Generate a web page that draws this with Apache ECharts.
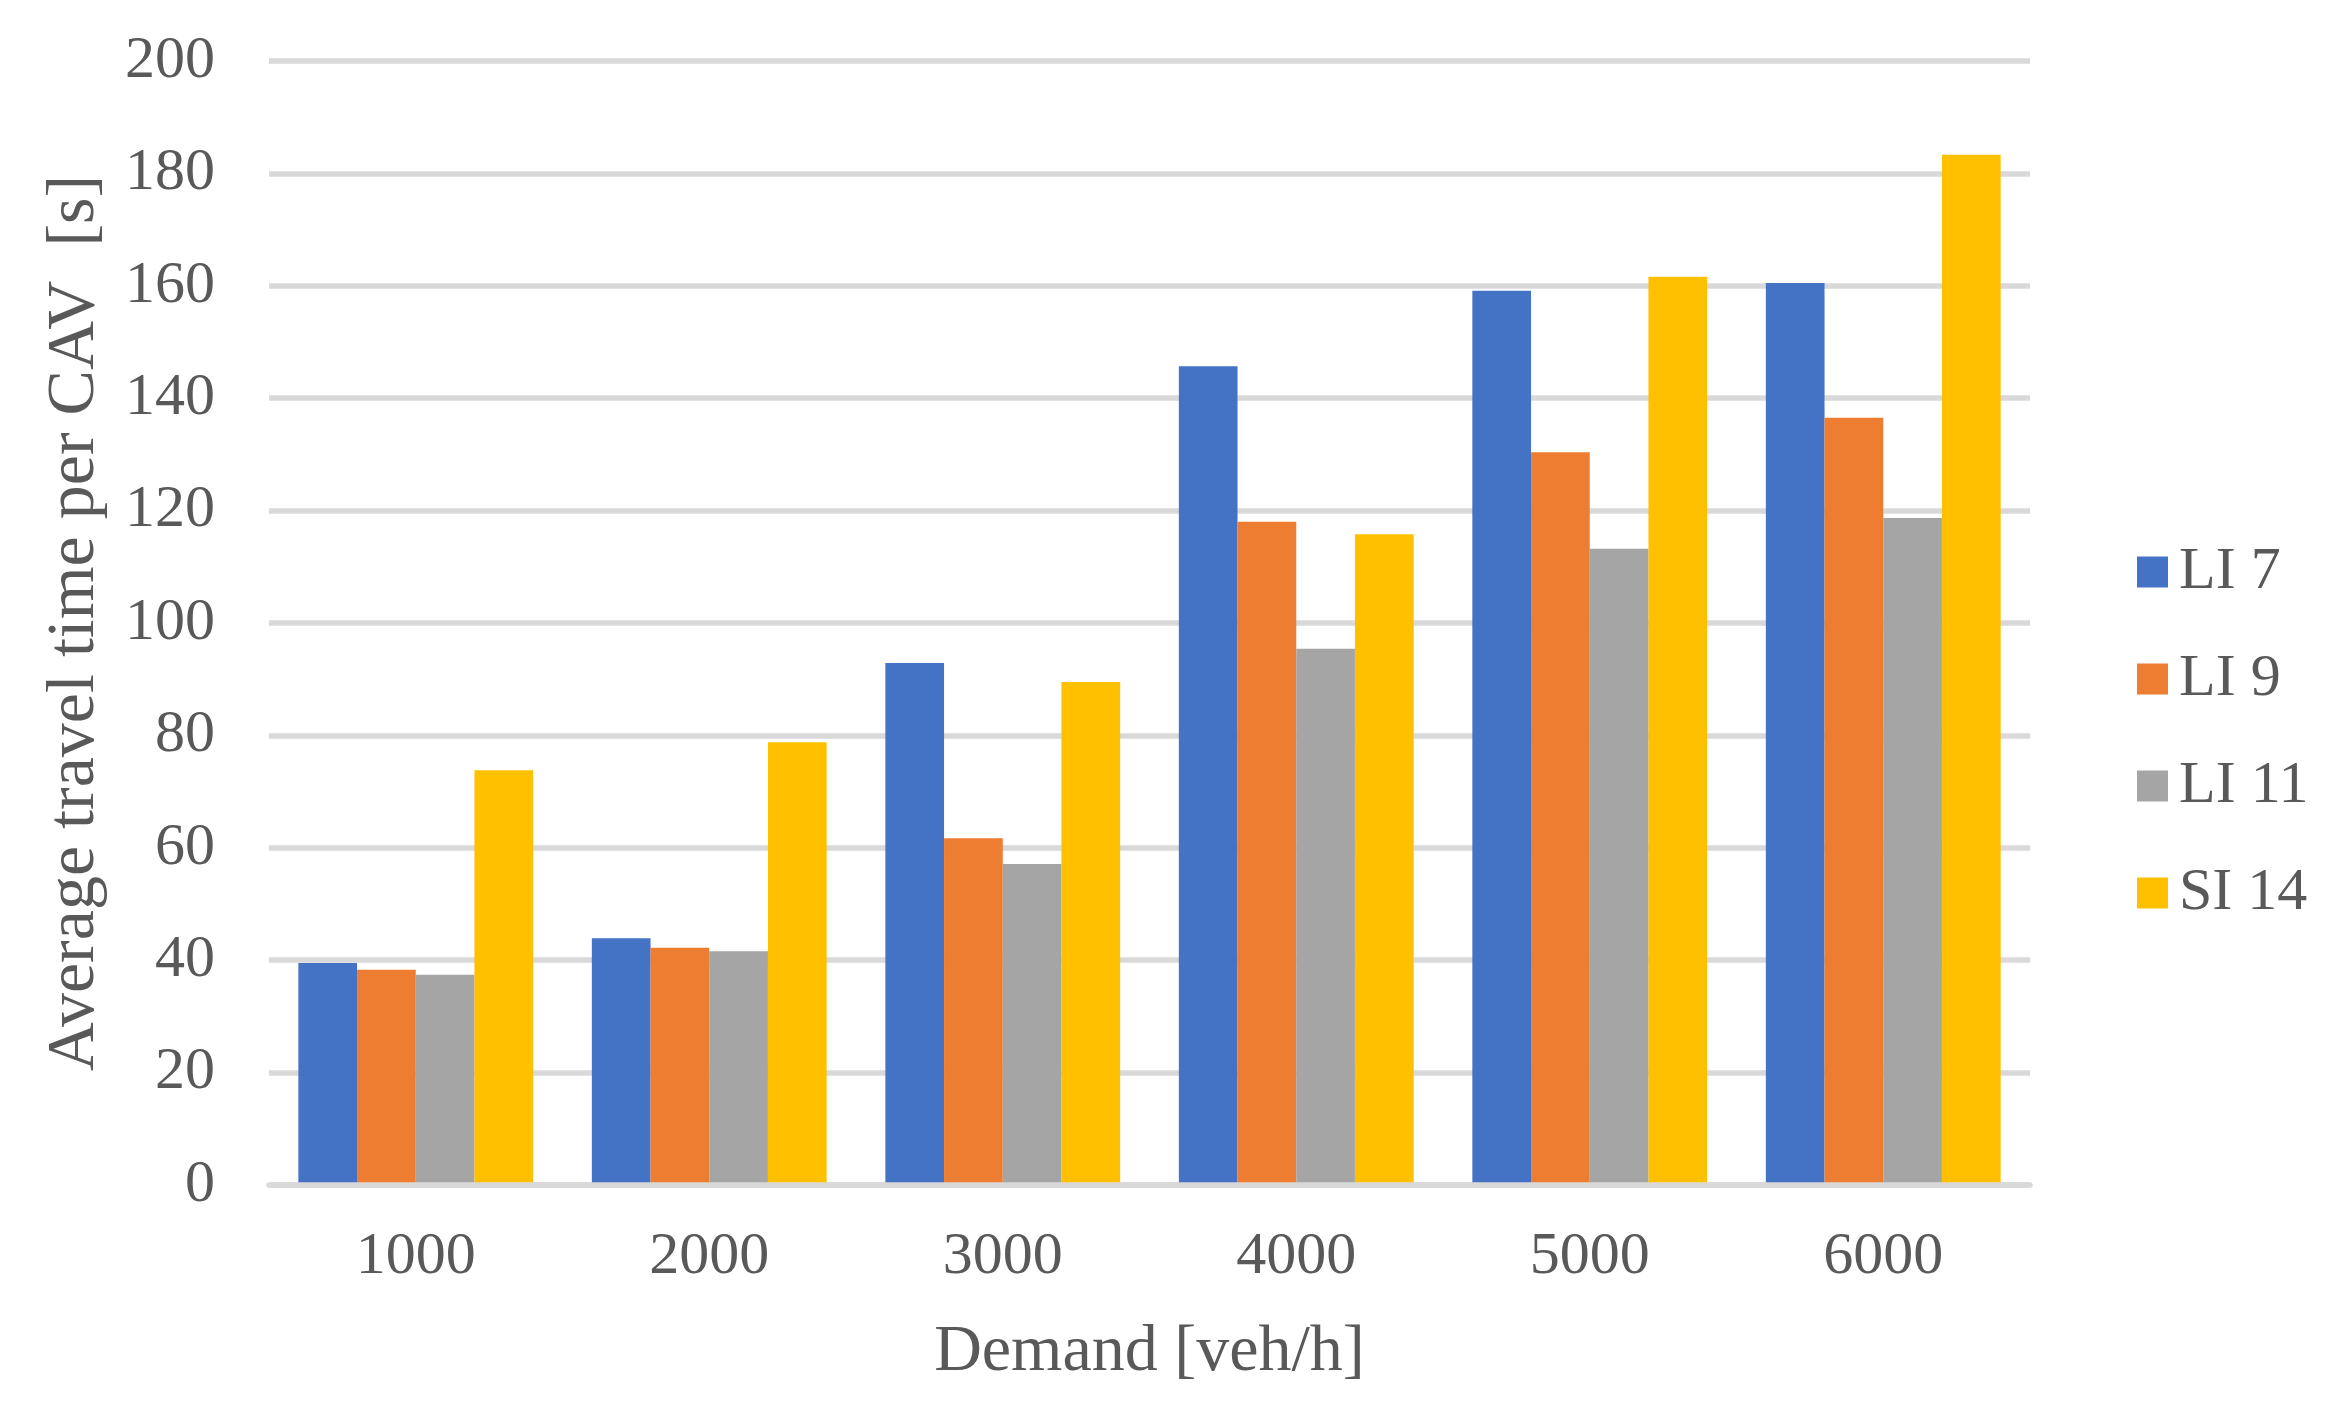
<!DOCTYPE html>
<html>
<head>
<meta charset="utf-8">
<script src="https://cdn.jsdelivr.net/npm/echarts@6/dist/echarts.min.js"></script>
<style>
html,body{margin:0;padding:0;background:#fff;}
#chart{width:2328px;height:1410px;}
</style>
</head>
<body>
<div id="chart"></div>
<script>
const categories = ['1000', '2000', '3000', '4000', '5000', '6000'];
const seriesNames = ['LI 7', 'LI 9', 'LI 11', 'SI 14'];
const li7 = [39.5, 43.9, 92.9, 145.7, 159.1, 160.5];
const li9 = [38.3, 42.2, 61.7, 118.0, 130.4, 136.5];
const li11 = [37.4, 41.6, 57.1, 95.4, 113.2, 118.7];
const si14 = [73.8, 78.8, 89.5, 115.8, 161.6, 183.3];
const yTicks = [0, 20, 40, 60, 80, 100, 120, 140, 160, 180, 200];
const xTitle = 'Demand [veh/h]';
const yTitle = 'Average travel time per CAV  [s]';

const colors = ['#4472C4', '#ED7D31', '#A5A5A5', '#FFC000'];
const font = "'Liberation Serif', 'Times New Roman', serif";
const txt = '#595959';

const chart = echarts.init(document.getElementById('chart'), null, {renderer: 'canvas'});
const dataSets = [li7, li9, li11, si14];

chart.setOption({
  animation: false,
  color: colors,
  textStyle: {fontFamily: font, color: txt},
  grid: {left: 269, right: 298, top: 61, bottom: 225, containLabel: false},
  legend: {
    orient: 'vertical',
    left: 2132,
    top: 537,
    itemWidth: 31,
    itemHeight: 31,
    itemGap: 47,
    icon: 'rect',
    data: seriesNames,
    textStyle: {fontFamily: font, fontSize: 60, color: txt, padding: [0, 0, 0, 6]}
  },
  xAxis: {
    type: 'category',
    data: categories,
    z: 3,
    axisLine: {show: true, lineStyle: {color: '#D9D9D9', width: 5.5}},
    axisTick: {show: false},
    axisLabel: {fontFamily: font, fontSize: 60, color: txt, margin: 42},
    name: xTitle,
    nameLocation: 'middle',
    nameGap: 135,
    nameTextStyle: {fontFamily: font, fontSize: 66, color: txt}
  },
  yAxis: {
    type: 'value',
    min: 0,
    max: 200,
    interval: 20,
    axisLine: {show: false},
    axisTick: {show: false},
    splitLine: {show: true, lineStyle: {color: '#D9D9D9', width: 5.5}},
    axisLabel: {
      fontFamily: font, fontSize: 60, color: txt, margin: 54,
      formatter: function (v) { return yTicks.indexOf(v) >= 0 ? String(v) : ''; }
    },
    name: yTitle,
    nameLocation: 'middle',
    nameGap: 160,
    nameTextStyle: {fontFamily: font, fontSize: 68, color: txt}
  },
  series: seriesNames.map(function (n, i) {
    return {
      name: n,
      type: 'bar',
      data: dataSets[i],
      barGap: '0%',
      barCategoryGap: '20%',
      itemStyle: {color: colors[i]}
    };
  })
});
</script>
</body>
</html>
